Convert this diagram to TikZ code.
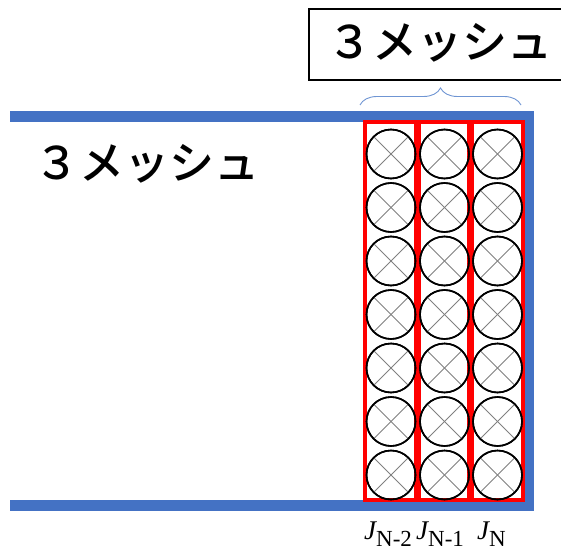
\documentclass[tikz,border=0pt]{standalone}
\usepackage{fontspec}
\setmainfont{Liberation Serif}
\newfontfamily\jp{Noto Sans CJK JP Medium}
\usetikzlibrary{decorations.pathreplacing}
\definecolor{wallblue}{HTML}{4472C4}
\definecolor{bracecol}{HTML}{6F95D3}
\tikzset{
  wall/.style={draw=wallblue,line width=11pt},
  cell/.style={draw=red,line width=4.5pt},
  celldiv/.style={draw=red,line width=6.5pt},
  cond/.style={circle,draw=black,line width=1.6pt,minimum size=49pt,inner sep=0pt},
  crossln/.style={draw=gray,line width=0.9pt},
  jptext/.style={font=\jp\fontsize{45}{50}\selectfont,inner sep=0pt},
  jlabel/.style={anchor=base west,inner sep=0pt}
}
\begin{document}
\begin{tikzpicture}[x=1pt,y=-1pt]
\useasboundingbox (0,0) rectangle (561,553);
\clip (0,0) rectangle (561,553);
% top label box
\draw[line width=1.5pt] (309,9) rectangle (570,80);
\node[jptext] (toplbl) at (440,43) {３メッシュ};
% brace
\coordinate (bl) at (360,105);
\coordinate (br) at (521,105);
\draw[bracecol,line width=0.9pt,decorate,decoration={brace,amplitude=17pt}] (bl) -- (br);
% walls
\draw[wall,line join=miter] (10,117) -- (528,117) -- (528,505) -- (10,505);
% left label
\node[jptext] (leftlbl) at (147,164) {３メッシュ};
% cells
\draw[cell] (365,122) rectangle (523,500);
\draw[celldiv] (417.5,122) -- (417.5,500);
\draw[celldiv] (470.5,122) -- (470.5,500);
% conductors
\foreach \c/\x in {1/391,2/444.5,3/497.5}{
  \foreach \r in {0,...,6}{
    \pgfmathsetmacro{\yy}{154+53.5*\r}
    \node[cond] (c\c\r) at (\x,\yy) {};
    \draw[crossln] (c\c\r.north west) -- (c\c\r.south east);
    \draw[crossln] (c\c\r.north east) -- (c\c\r.south west);
    \node[cond] at (\x,\yy) {};
  }
}
% labels
\node[jlabel] (j1) at (364,539) {{\fontsize{27}{27}\selectfont\itshape J}\raisebox{-7.5pt}{\fontsize{23}{23}\selectfont N-2}};
\node[jlabel] (j2) at (416,539) {{\fontsize{27}{27}\selectfont\itshape J}\raisebox{-7.5pt}{\fontsize{23}{23}\selectfont N-1}};
\node[jlabel] (j3) at (477,539) {{\fontsize{27}{27}\selectfont\itshape J}\raisebox{-7.5pt}{\fontsize{23}{23}\selectfont N}};
\end{tikzpicture}
\end{document}
